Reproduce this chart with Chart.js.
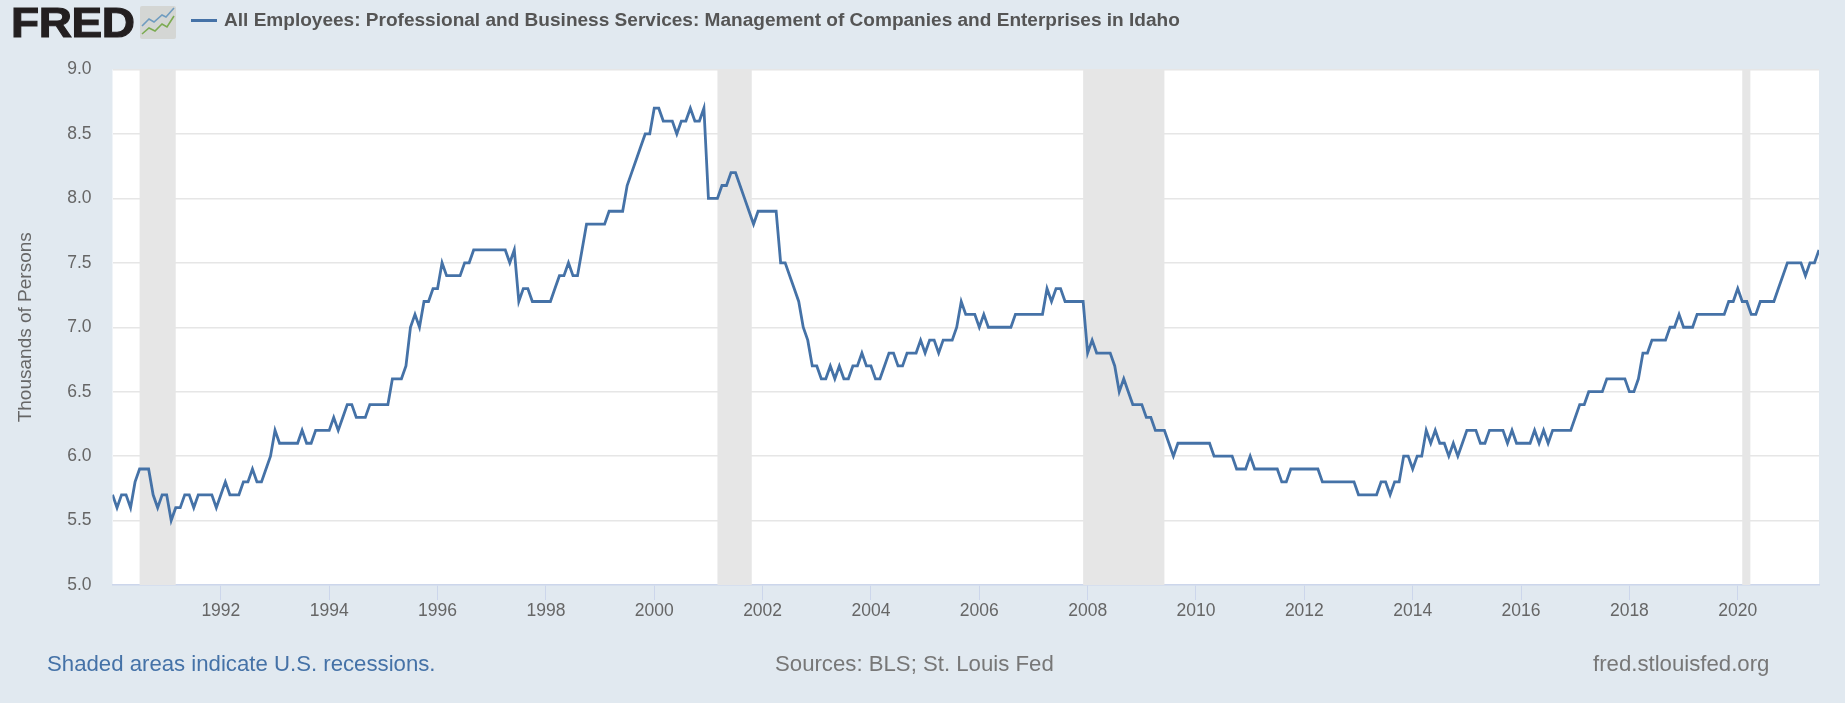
<!DOCTYPE html>
<html><head><meta charset="utf-8">
<script src="https://cdn.jsdelivr.net/npm/chart.js@4"></script>
<style>
html,body{margin:0;padding:0;background:#e1e9f0;width:1845px;height:703px;overflow:hidden;font-family:"Liberation Sans",Arial,sans-serif}
#wrap{position:relative;width:1845px;height:703px}
canvas{position:absolute;left:0;top:0}
.t{position:absolute;white-space:nowrap}
#logo{left:11px;top:-6px;font-size:46px;font-weight:700;color:#231f20;letter-spacing:-.4px;-webkit-text-stroke:1.2px #231f20;line-height:56px;transform-origin:0 50%;transform:scaleY(.92)}
#icon{position:absolute;left:140px;top:6px}
#swatch{position:absolute;left:191px;top:19px;width:26px;height:3px;background:#4572a7}
#title{left:224px;top:9px;font-size:19.06px;font-weight:700;color:#555;line-height:22px}
#note{left:47px;top:652px;font-size:22.2px;color:#4572a7;line-height:24px}
#src{left:775px;top:652px;font-size:22.2px;color:#777;line-height:24px}
#site{left:1593px;top:652px;font-size:22.2px;color:#777;line-height:24px}
</style></head><body>
<div id="wrap">
<canvas id="c" width="1845" height="703" style="width:1845px;height:703px"></canvas>
<div class="t" id="logo">FRED</div>
<svg id="icon" width="36" height="33" viewBox="0 0 36 33"><rect width="36" height="33" rx="2" fill="#d4d6d4"/><polyline points="2,20 9,13 14,16 22,9 26,11 34,2" fill="none" stroke="#6f9cc0" stroke-width="1.6"/><polyline points="2,28 9,22 15,25 22,18 27,21 34,10" fill="none" stroke="#7cab52" stroke-width="1.6"/></svg>
<div id="swatch"></div>
<div class="t" id="title"></div>
<div class="t" id="note"></div>
<div class="t" id="src"></div>
<div class="t" id="site"></div>
</div>
<script>
const seriesTitle = "All Employees: Professional and Business Services: Management of Companies and Enterprises in Idaho";
const yAxisTitle = "Thousands of Persons";
const noteText = "Shaded areas indicate U.S. recessions.";
const sourceText = "Sources: BLS; St. Louis Fed";
const siteText = "fred.stlouisfed.org";

const startYear = 1990;
const employees = [
5.7,5.6,5.7,5.7,5.6,5.8,5.9,5.9,5.9,5.7,5.6,5.7,
5.7,5.5,5.6,5.6,5.7,5.7,5.6,5.7,5.7,5.7,5.7,5.6,
5.7,5.8,5.7,5.7,5.7,5.8,5.8,5.9,5.8,5.8,5.9,6.0,
6.2,6.1,6.1,6.1,6.1,6.1,6.2,6.1,6.1,6.2,6.2,6.2,
6.2,6.3,6.2,6.3,6.4,6.4,6.3,6.3,6.3,6.4,6.4,6.4,
6.4,6.4,6.6,6.6,6.6,6.7,7.0,7.1,7.0,7.2,7.2,7.3,
7.3,7.5,7.4,7.4,7.4,7.4,7.5,7.5,7.6,7.6,7.6,7.6,
7.6,7.6,7.6,7.6,7.5,7.6,7.2,7.3,7.3,7.2,7.2,7.2,
7.2,7.2,7.3,7.4,7.4,7.5,7.4,7.4,7.6,7.8,7.8,7.8,
7.8,7.8,7.9,7.9,7.9,7.9,8.1,8.2,8.3,8.4,8.5,8.5,
8.7,8.7,8.6,8.6,8.6,8.5,8.6,8.6,8.7,8.6,8.6,8.7,
8.0,8.0,8.0,8.1,8.1,8.2,8.2,8.1,8.0,7.9,7.8,7.9,
7.9,7.9,7.9,7.9,7.5,7.5,7.4,7.3,7.2,7.0,6.9,6.7,
6.7,6.6,6.6,6.7,6.6,6.7,6.6,6.6,6.7,6.7,6.8,6.7,
6.7,6.6,6.6,6.7,6.8,6.8,6.7,6.7,6.8,6.8,6.8,6.9,
6.8,6.9,6.9,6.8,6.9,6.9,6.9,7.0,7.2,7.1,7.1,7.1,
7.0,7.1,7.0,7.0,7.0,7.0,7.0,7.0,7.1,7.1,7.1,7.1,
7.1,7.1,7.1,7.3,7.2,7.3,7.3,7.2,7.2,7.2,7.2,7.2,
6.8,6.9,6.8,6.8,6.8,6.8,6.7,6.5,6.6,6.5,6.4,6.4,
6.4,6.3,6.3,6.2,6.2,6.2,6.1,6.0,6.1,6.1,6.1,6.1,
6.1,6.1,6.1,6.1,6.0,6.0,6.0,6.0,6.0,5.9,5.9,5.9,
6.0,5.9,5.9,5.9,5.9,5.9,5.9,5.8,5.8,5.9,5.9,5.9,
5.9,5.9,5.9,5.9,5.8,5.8,5.8,5.8,5.8,5.8,5.8,5.8,
5.7,5.7,5.7,5.7,5.7,5.8,5.8,5.7,5.8,5.8,6.0,6.0,
5.9,6.0,6.0,6.2,6.1,6.2,6.1,6.1,6.0,6.1,6.0,6.1,
6.2,6.2,6.2,6.1,6.1,6.2,6.2,6.2,6.2,6.1,6.2,6.1,
6.1,6.1,6.1,6.2,6.1,6.2,6.1,6.2,6.2,6.2,6.2,6.2,
6.3,6.4,6.4,6.5,6.5,6.5,6.5,6.6,6.6,6.6,6.6,6.6,
6.5,6.5,6.6,6.8,6.8,6.9,6.9,6.9,6.9,7.0,7.0,7.1,
7.0,7.0,7.0,7.1,7.1,7.1,7.1,7.1,7.1,7.1,7.2,7.2,
7.3,7.2,7.2,7.1,7.1,7.2,7.2,7.2,7.2,7.3,7.4,7.5,
7.5,7.5,7.5,7.4,7.5,7.5,7.6
];
const xTickYears = [1992,1994,1996,1998,2000,2002,2004,2006,2008,2010,2012,2014,2016,2018,2020];
const yTicks = [5.0,5.5,6.0,6.5,7.0,7.5,8.0,8.5,9.0];
const recessionStart = [1990+6/12, 2001+2/12, 2007+11/12, 2020+1/12];
const recessionEnd   = [1991+2/12, 2001+9.6/12, 2009+5/12, 2020+2.8/12];

document.getElementById('title').textContent = seriesTitle;
document.getElementById('note').textContent = noteText;
document.getElementById('src').textContent = sourceText;
document.getElementById('site').textContent = siteText;

const recessionPlugin = {
  id:'recessions',
  beforeDatasetsDraw(chart){
    const {ctx, chartArea:a, scales:{x}} = chart;
    ctx.save();
    ctx.fillStyle = '#e6e6e6';
    recessionStart.forEach((s,i)=>{
      const l = x.getPixelForValue(s), r = x.getPixelForValue(recessionEnd[i]);
      ctx.fillRect(l, a.top, r-l, a.bottom-a.top);
    });
    ctx.restore();
  }
};
const whitePlot = {
  id:'whitePlot',
  beforeDraw(chart){
    const {ctx, chartArea:a} = chart;
    ctx.save(); ctx.fillStyle='#ffffff'; ctx.fillRect(a.left,a.top,a.right-a.left,a.bottom-a.top); ctx.restore();
  }
};
new Chart(document.getElementById('c'),{
  type:'line',
  data:{datasets:[{
    label:seriesTitle,
    data:employees.map((v,i)=>({x:startYear+i/12,y:v})),
    borderColor:'#4572a7',borderWidth:2.8,pointRadius:0,tension:0,fill:false,borderJoinStyle:'miter',borderCapStyle:'butt'
  }]},
  plugins:[whitePlot,recessionPlugin],
  options:{
    responsive:false,animation:false,
    layout:{padding:{left:0,top:69.5,right:26,bottom:0}},
    plugins:{legend:{display:false},tooltip:{enabled:false}},
    scales:{
      x:{type:'linear',min:startYear,max:startYear+(employees.length-1)/12,
        afterBuildTicks(s){s.ticks=xTickYears.map(v=>({value:v}));},
        afterFit(s){s.height=118;},
        grid:{drawOnChartArea:false,drawTicks:true,tickLength:15,color:'#ccd6eb',tickColor:'#ccd6eb'},
        border:{color:'#ccd6eb',width:1.5},
        ticks:{autoSkip:false,maxRotation:0,padding:1,color:'#666',font:{family:'"Liberation Sans"',size:17.5},callback:v=>String(v)}
      },
      y:{min:5,max:9,
        afterBuildTicks(s){s.ticks=yTicks.map(v=>({value:v}));},
        afterFit(s){s.width=112.5;},
        grid:{color:c=>c.tick.value===5?'rgba(0,0,0,0)':'#e6e6e6',lineWidth:1.5,drawTicks:false},
        border:{display:false},
        ticks:{padding:21,color:'#666',font:{family:'"Liberation Sans"',size:17.5},callback:v=>v.toFixed(1)},
        title:{display:true,text:yAxisTitle,color:'#666',font:{family:'"Liberation Sans"',size:19},padding:{top:14,bottom:0}}
      }
    }
  }
});
</script>
</body></html>
